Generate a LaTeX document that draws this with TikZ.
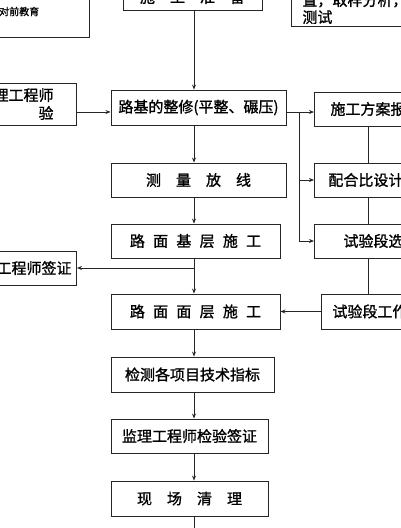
\documentclass[tikz,border=0pt]{standalone}
\usepackage{fontspec}
\setmainfont{Noto Sans CJK SC}[FakeBold=1.2]
\usetikzlibrary{arrows.meta}

\newcommand{\wsp}{\hspace{.55em}}

\begin{document}
\begin{tikzpicture}[
    x=1pt, y=-1pt,
    box/.style={draw=black!85, rectangle, line width=0.9pt, inner sep=0pt,
        align=center, font=\fontsize{15}{17}\selectfont},
    rbox/.style={box, anchor=west, text width=130pt, align=left, minimum height=34pt},
    txt/.style={inner sep=0pt, align=left, font=\fontsize{15}{17}\selectfont},
    arrow/.style={-{Stealth[length=5pt,width=4pt]}, line width=0.8pt, black!85},
    line/.style={line width=0.8pt, black!85}
]
\useasboundingbox (0,0) rectangle (400,528);

% Top row, cut by the frame
\node[box, minimum width=139pt, minimum height=26pt] (prep) at (192.5,-3) {施\quad 工\quad 准\quad 备};
\node[box, anchor=south east, minimum width=140pt, minimum height=53pt] (educ) at (90,38) {};
\node[txt, anchor=west, font=\fontsize{10}{12}\selectfont] (eductext) at (-1,11.5) {对前教育};
\node[box, anchor=south west, text width=120pt, align=left, inner xsep=11pt,
    minimum height=36pt] (sample) at (291,27) {置，取样分析，\\测试};

% Main column
\node[box, minimum width=175pt, minimum height=35pt] (subgrade) at (198.5,107.5) {路基的整修(平整、碾压)};
\node[box, minimum width=175pt, minimum height=34pt] (survey) at (198.5,180) {测\quad 量\quad 放\quad 线};
\node[box, minimum width=169pt, minimum height=34pt] (base) at (195.5,241) {路\wsp 面\wsp 基\wsp 层\wsp 施\wsp 工};
\node[box, minimum width=169pt, minimum height=35pt] (surface) at (195.5,311.5) {路\wsp 面\wsp 面\wsp 层\wsp 施\wsp 工};
\node[box, minimum width=163pt, minimum height=35pt] (test) at (192.5,374.5) {检测各项目技术指标};
\node[box, minimum width=157pt, minimum height=34pt] (approve) at (189.5,436) {监理工程师检验签证};
\node[box, minimum width=157pt, minimum height=35pt] (clean) at (189.5,498.5) {现\quad 场\quad 清\quad 理};

% Left column
\node[box, anchor=east, text width=60pt, align=right, inner xsep=23pt, minimum height=42pt,
    font=\fontsize{15}{18}\selectfont] (check) at (77,104) {理工程师\\验};
\node[box, anchor=east, text width=75pt, align=right, inner xsep=5pt, minimum height=34pt] (sign) at (77,268) {工程师签证};

% Right column
\node[rbox, inner xsep=16pt] (plan) at (314,109) {施工方案报};
\node[rbox, inner xsep=14pt] (mix) at (314,180) {配合比设计};
\node[rbox, inner xsep=29pt] (trial) at (314,241) {试验段选};
\node[rbox, inner xsep=11pt, minimum height=35pt] (trialwork) at (321,311.5) {试验段工作};

% Helper coordinates
\coordinate (spine) at (194,0);
\coordinate (rowa) at (0,112);
\coordinate (fork) at (299,112);
\coordinate (rcol) at (368,0);
\coordinate (tap) at (194,268);
\coordinate (bottom) at (194,535);

% Arrows — main column
\draw[arrow] (prep.south -| spine) -- (subgrade.north -| spine);
\draw[arrow] (subgrade.south -| spine) -- (survey.north -| spine);
\draw[arrow] (survey.south -| spine) -- (base.north -| spine);
\draw[arrow] (base.south -| spine) -- (surface.north -| spine);
\draw[arrow] (surface.south -| spine) -- (test.north -| spine);
\draw[arrow] (test.south -| spine) -- (approve.north -| spine);
\draw[arrow] (approve.south -| spine) -- (clean.north -| spine);
\draw[line] (clean.south -| spine) -- (bottom);

% Arrows — side branches
\draw[arrow] (check.east |- rowa) -- (subgrade.west |- rowa);
\draw[arrow] (tap) -- (sign.east);
\draw[line] (subgrade.east |- fork) -- (fork);
\draw[arrow] (fork) -- (plan.west |- fork);
\draw[line] (fork) -- (fork |- trial.west);
\draw[arrow] (fork |- mix.west) -- (mix.west);
\draw[arrow] (fork |- trial.west) -- (trial.west);
\draw[arrow] (trialwork.west) -- (surface.east |- trialwork.west);

% Right column links
\draw[line] (plan.south -| rcol) -- (mix.north -| rcol);
\draw[line] (mix.south -| rcol) -- (trial.north -| rcol);
\draw[line] (trial.south -| rcol) -- (trialwork.north -| rcol);

\end{tikzpicture}
\end{document}
